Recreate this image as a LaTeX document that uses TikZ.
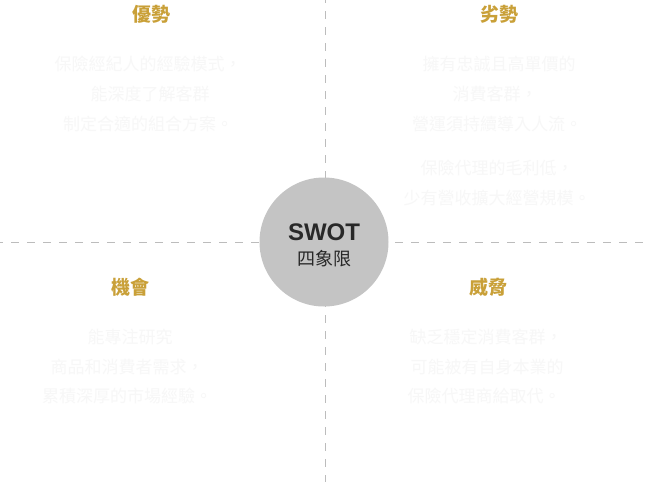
\documentclass[tikz,border=0pt]{standalone}
\usepackage{fontspec}
\setmainfont{Liberation Sans}
\newfontfamily\cjk{Noto Sans CJK TC}
\definecolor{gold}{RGB}{201,160,56}
\definecolor{faint}{RGB}{247,247,247}
\definecolor{circ}{RGB}{196,196,196}
\definecolor{dashc}{RGB}{188,188,188}
\definecolor{dark}{RGB}{40,40,40}
\begin{document}
\begin{tikzpicture}[x=1pt,y=-1pt,
  title/.style={font=\cjk\bfseries\fontsize{19}{19}\selectfont, text=gold, inner sep=0pt},
  body/.style={font=\cjk\fontsize{17}{17}\selectfont, text=faint, inner sep=0pt, anchor=center},
  axis/.style={draw=dashc, line width=1pt, dash pattern=on 8pt off 8pt, dash phase=5pt}]
\fill[white] (0,0) rectangle (650,482);
\useasboundingbox (0,0) rectangle (650,482);
\coordinate (vt) at (325,0);
\coordinate (vb) at (325,482);
\coordinate (hl) at (0,242);
\coordinate (hr) at (650,242);
\draw[axis] (vt) -- (vb);
\draw[axis] (hl) -- (hr);
\node[circle, fill=circ, minimum size=129pt, inner sep=0pt] (c) at (324,242) {};
\node[font=\bfseries\fontsize{24}{24}\selectfont, text=dark, inner sep=0pt] (swot) at (324,232) {SWOT};
\node[font=\cjk\fontsize{18}{18}\selectfont, text=dark, inner sep=0pt] (sq) at (324,259) {四象限};
\node[title] (s) at (151,14) {優勢};
\node[title] (w) at (499,14) {劣勢};
\node[title] (o) at (130,287) {機會};
\node[title] (t) at (488,287) {威脅};
\node[body] (s1) at (148,64) {保險經紀人的經驗模式，};
\node[body] (s2) at (150,94) {能深度了解客群};
\node[body] (s3) at (148,124) {制定合適的組合方案。};
\node[body] (w1) at (499,64) {擁有忠誠且高單價的};
\node[body] (w2) at (495,94) {消費客群，};
\node[body] (w3) at (497,124) {營運須持續導入人流。};
\node[body] (w4) at (497,168) {保險代理的毛利低，};
\node[body] (w5) at (497,198) {少有營收擴大經營規模。};
\node[body] (o1) at (130,337) {能專注研究};
\node[body] (o2) at (127,367) {商品和消費者需求，};
\node[body] (o3) at (127,396) {累積深厚的市場經驗。};
\node[body] (t1) at (486,337) {缺乏穩定消費客群，};
\node[body] (t2) at (487,367) {可能被有自身本業的};
\node[body] (t3) at (484,396) {保險代理商給取代。};
\end{tikzpicture}
\end{document}
